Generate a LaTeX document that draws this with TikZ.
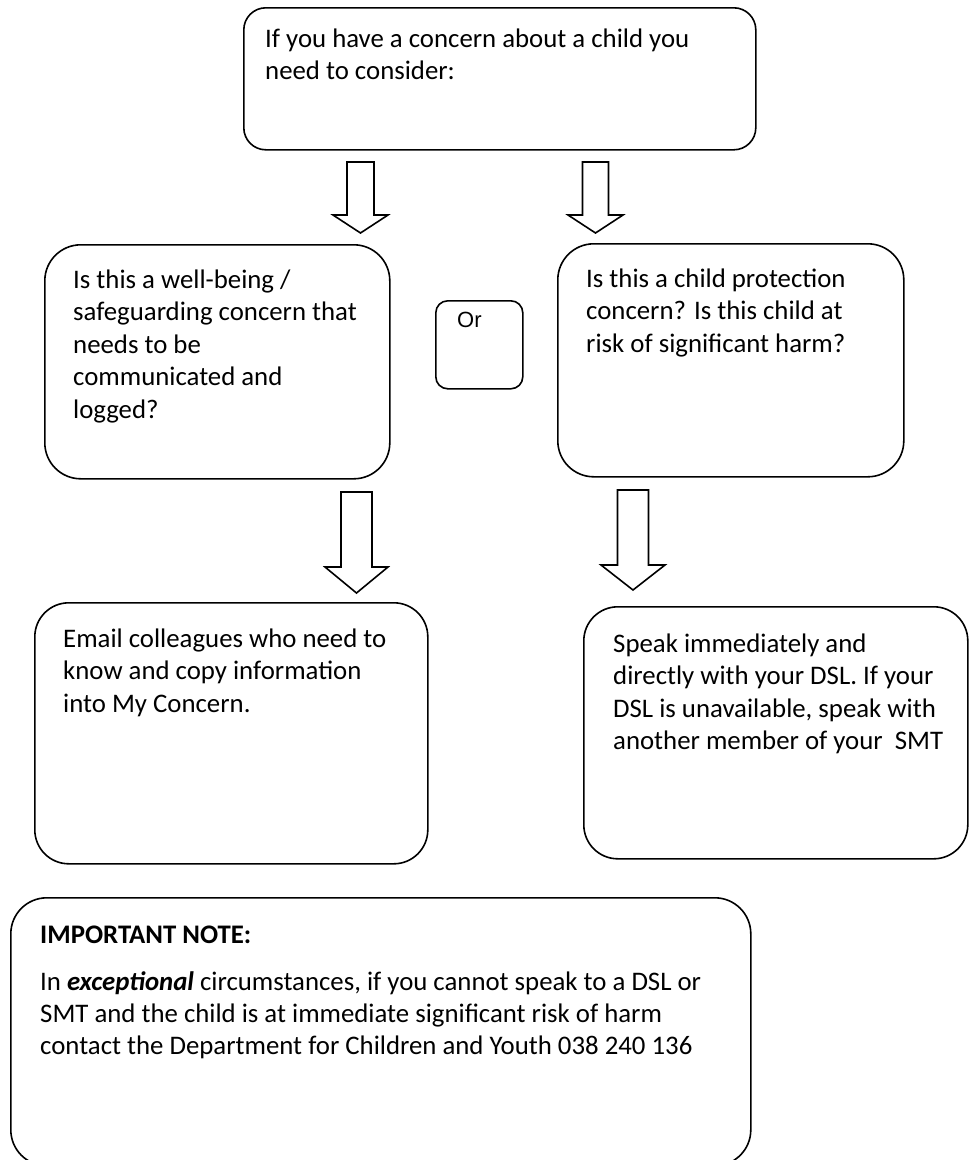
\documentclass[tikz,border=0pt]{standalone}
\usepackage{fontspec}
\setmainfont{Carlito}
\newfontfamily\arialfont{Liberation Sans}
\usetikzlibrary{calc}
\tikzset{
  box/.style={draw, line width=1.6pt, rounded corners=#1, inner sep=0pt, anchor=north west},
  box/.default=33pt,
  txt/.style={inner sep=0pt, anchor=base west, align=left, font=\fontsize{26.8}{32.5}\selectfont},
  blk/.style={draw, line width=1.6pt, fill=white, line join=miter},
}
% #1 top coordinate, #2 tip coordinate, #3 shaft half width, #4 head half width, #5 head length
\newcommand\blockarrow[5]{%
  \draw[blk] let \p1=(#1), \p2=(#2) in
    (\x2-#3,\y1) -- (\x2+#3,\y1) -- (\x2+#3,\y2+#5) -- (\x2+#4,\y2+#5) --
    (\x2,\y2) -- (\x2-#4,\y2+#5) -- (\x2-#3,\y2+#5) -- cycle;}
\begin{document}
\begin{tikzpicture}[x=1pt,y=-1pt]
\useasboundingbox (0,0) rectangle (969,1160);

% boxes
\node[box=22pt, minimum width=512pt, minimum height=142pt] (top) at (243,7) {};
\node[box=36pt, minimum width=345pt, minimum height=234pt] (wb) at (44,244) {};
\node[box=36pt, minimum width=346pt, minimum height=233pt] (cp) at (557,243) {};
\node[box=12pt, minimum width=87pt, minimum height=88pt] (or) at (435,300) {};
\node[box=34pt, minimum width=393pt, minimum height=261pt] (em) at (34,602) {};
\node[box=34pt, minimum width=384pt, minimum height=252pt] (sp) at (583,606) {};
\node[box=36pt, minimum width=740pt, minimum height=268pt] (nt) at (10,897) {};

% texts (anchor = baseline of the last line)
\node[txt] (ttop) at (265,79.5) {If you have a concern about a child you\\need to consider:};
\node[txt] (twb) at (73,418) {Is this a well-being /\\safeguarding concern that\\needs to be\\communicated and\\logged?};
\node[txt] (tcp) at (586,352) {Is this a child protection\\concern? Is this child at\\risk of significant harm?};
\node[inner sep=0pt, anchor=base west, font=\arialfont\fontsize{22}{26}\selectfont] (tor) at (457,327) {Or};
\node[txt] (tem) at (63,712) {Email colleagues who need to\\know and copy information\\into My Concern.};
\node[txt] (tsp) at (613,749.5) {Speak immediately and\\directly with your DSL. If your\\DSL is unavailable, speak with\\another member of your\ \ SMT};
\node[txt] (tnt1) at (40,943) {\textbf{IMPORTANT NOTE:}};
\node[txt, font=\fontsize{26.8}{32}\selectfont] (tnt2) at (40,1054) {In \textbf{\textit{exceptional}} circumstances, if you cannot speak to a DSL or\\SMT and the child is at immediate significant risk of harm\\contact the Department for Children and Youth 038 240 136};

% block arrows
\coordinate (a1s) at (360.5,162); \coordinate (a1e) at (360.5,233);
\coordinate (a2s) at (595.5,162); \coordinate (a2e) at (595.5,233);
\coordinate (a3s) at (356.5,492); \coordinate (a3e) at (356.5,593);
\coordinate (a4s) at (633,490);   \coordinate (a4e) at (633,590);
\blockarrow{a1s}{a1e}{13.5pt}{27.5pt}{18pt}
\blockarrow{a2s}{a2e}{13pt}{27.5pt}{18pt}
\blockarrow{a3s}{a3e}{15.5pt}{31.5pt}{26pt}
\blockarrow{a4s}{a4e}{15.5pt}{32pt}{25pt}
\end{tikzpicture}
\end{document}
